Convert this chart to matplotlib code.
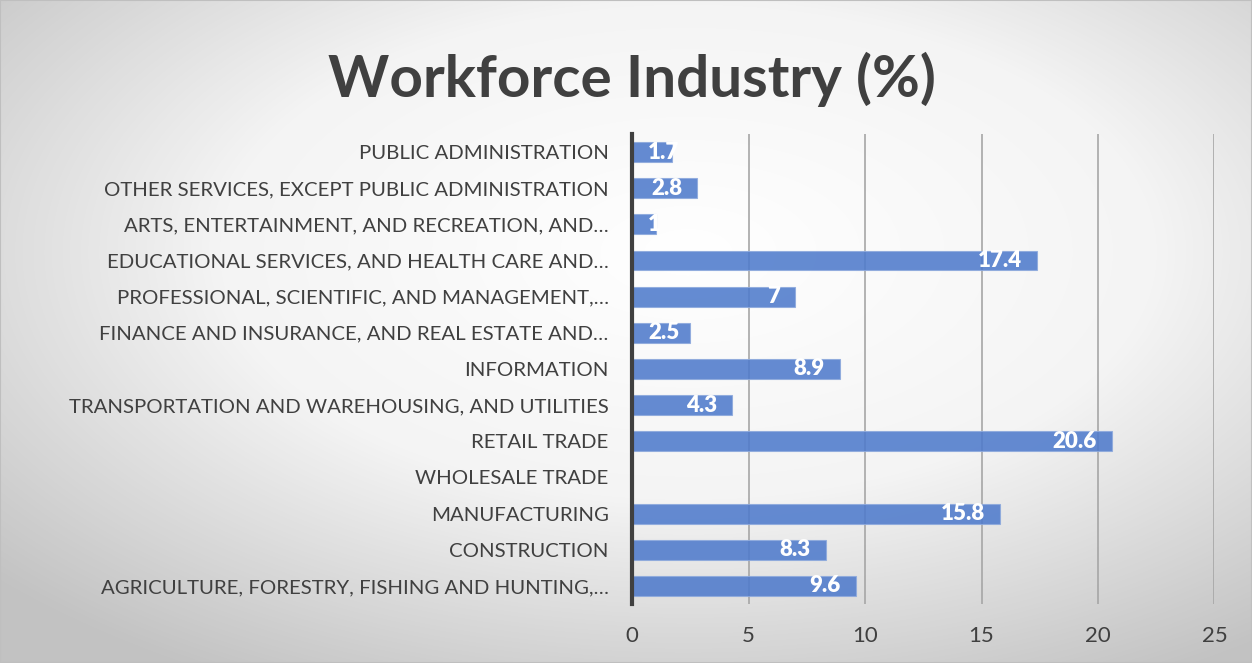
import numpy as np
from matplotlib import pyplot as plt
from matplotlib.colors import LinearSegmentedColormap

CATEGORIES = [
    'AGRICULTURE, FORESTRY, FISHING AND HUNTING,…',
    'CONSTRUCTION',
    'MANUFACTURING',
    'WHOLESALE TRADE',
    'RETAIL TRADE',
    'TRANSPORTATION AND WAREHOUSING, AND UTILITIES',
    'INFORMATION',
    'FINANCE AND INSURANCE, AND REAL ESTATE AND…',
    'PROFESSIONAL, SCIENTIFIC, AND MANAGEMENT,…',
    'EDUCATIONAL SERVICES, AND HEALTH CARE AND…',
    'ARTS, ENTERTAINMENT, AND RECREATION, AND…',
    'OTHER SERVICES, EXCEPT PUBLIC ADMINISTRATION',
    'PUBLIC ADMINISTRATION',
]
VALUES = [9.6, 8.3, 15.8, None, 20.6, 4.3, 8.9, 2.5, 7, 17.4, 1, 2.8, 1.7]
X_TICKS = [0, 5, 10, 15, 20, 25]
TITLE = 'Workforce Industry (%)'

TEXT_COLOR = '#404040'
BAR_COLOR = '#4f7bcc'
FONT = ['Lato', 'DejaVu Sans']

plt.rcParams['font.family'] = FONT

fig = plt.figure(figsize=(12.52, 6.63), dpi=100)

# radial gray background
bg = fig.add_axes([0, 0, 1, 1], zorder=-10)
xx, yy = np.meshgrid(np.linspace(0, 1, 400), np.linspace(0, 1, 220))
dist = np.sqrt(((xx - 0.55) / 0.75) ** 2 + ((yy - 0.62) / 0.75) ** 2)
cmap = LinearSegmentedColormap.from_list('bg', ['#ffffff', '#f4f4f4', '#c2c2c2'])
bg.imshow(np.clip(dist, 0, 1), cmap=cmap, vmin=0, vmax=1, aspect='auto',
          extent=[0, 1, 0, 1], interpolation='bilinear')
bg.set_xlim(0, 1)
bg.set_ylim(1, 0)
bg.axis('off')
fig.patches.append(plt.Rectangle((0, 0), 1, 1, transform=fig.transFigure,
                                 fill=False, edgecolor='#bfbfbf', linewidth=1.5))

ax = fig.add_axes([0.505, 0.089, 0.465, 0.709])
ax.set_facecolor('none')

ys = np.arange(len(CATEGORIES))
widths = [v if v is not None else 0 for v in VALUES]
bars = ax.barh(ys, widths, height=0.55, color=BAR_COLOR, alpha=0.88,
               edgecolor='#8eaadd', linewidth=0.8, zorder=3)

for bar, v in zip(bars, VALUES):
    if v is None:
        continue
    label = '{:g}'.format(v)
    yc = bar.get_y() + bar.get_height() / 2
    # labels sit inside the end; short bars start them near the axis and clip
    if v < 2.7:
        t = ax.text(0.68, yc, label, ha='left', va='center')
    else:
        t = ax.text(v - 0.65, yc, label, ha='right', va='center')
    t.set(color='white', fontsize=16, fontweight='heavy', zorder=4)
    t.set_clip_path(bar)

ax.set_xlim(0, 25)
ax.set_ylim(-0.5, len(CATEGORIES) - 0.5)
ax.set_xticks(X_TICKS)
ax.set_yticks(ys)
ax.set_yticklabels(CATEGORIES)
ax.grid(axis='x', color='#a6a6a6', linewidth=1.2, zorder=0)
ax.set_axisbelow(True)
ax.tick_params(axis='both', length=0, colors=TEXT_COLOR)
ax.tick_params(axis='y', pad=17, labelsize=14.7)
ax.tick_params(axis='x', pad=16, labelsize=16)
for s in ['top', 'right', 'bottom']:
    ax.spines[s].set_visible(False)
ax.spines['left'].set_color(TEXT_COLOR)
ax.spines['left'].set_linewidth(3)
ax.spines['left'].set_zorder(5)

fig.text(0.505, 0.853, TITLE, ha='center', va='baseline', fontsize=42,
         fontweight='bold', color=TEXT_COLOR)

fig.savefig('out.png', dpi=100)
